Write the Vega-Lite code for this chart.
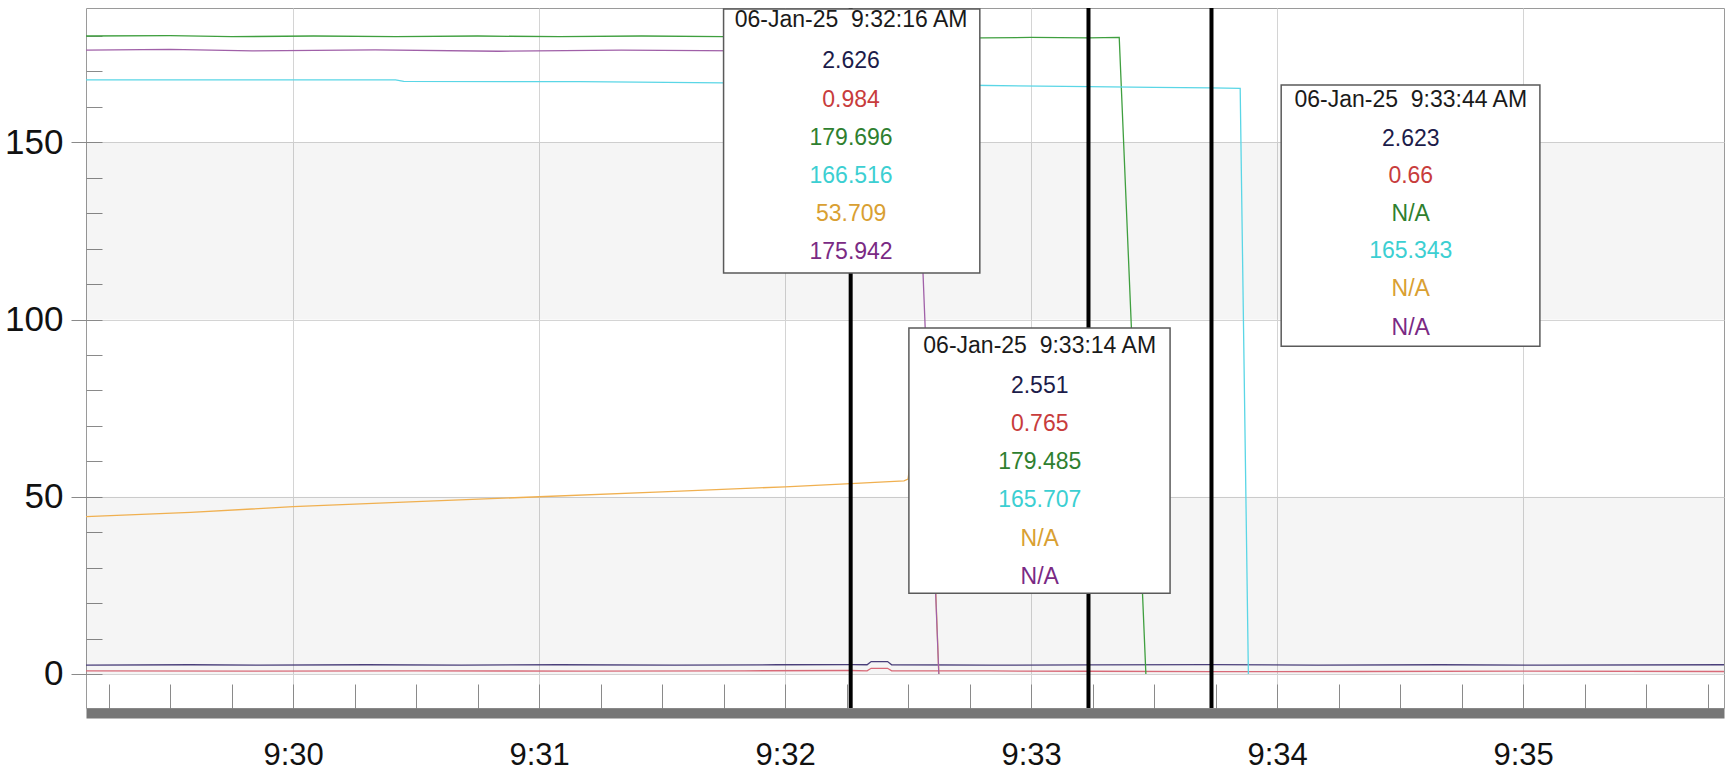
{
  "$schema": "https://vega.github.io/schema/vega-lite/v6.json",
  "autosize": "none",
  "width": 1638,
  "height": 700,
  "padding": {"left": 86, "top": 8, "right": 11, "bottom": 65},
  "background": "white",
  "view": {"stroke": "#9a9a9a", "strokeWidth": 1},
  "datasets": {
    "bandrows": [{"lo": 0, "hi": 50}, {"lo": 100, "hi": 150}],
    "seriesrows": [
      {"t": "2025-01-06T09:29:09.500", "s": "ch1", "v": 2.5},
      {"t": "2025-01-06T09:29:35", "s": "ch1", "v": 2.6},
      {"t": "2025-01-06T09:29:52", "s": "ch1", "v": 2.5},
      {"t": "2025-01-06T09:30:18", "s": "ch1", "v": 2.6},
      {"t": "2025-01-06T09:30:41", "s": "ch1", "v": 2.5},
      {"t": "2025-01-06T09:31:05", "s": "ch1", "v": 2.6},
      {"t": "2025-01-06T09:31:33", "s": "ch1", "v": 2.5},
      {"t": "2025-01-06T09:31:58", "s": "ch1", "v": 2.6},
      {"t": "2025-01-06T09:32:16", "s": "ch1", "v": 2.626},
      {"t": "2025-01-06T09:32:20", "s": "ch1", "v": 2.6},
      {"t": "2025-01-06T09:32:21", "s": "ch1", "v": 3.5},
      {"t": "2025-01-06T09:32:25", "s": "ch1", "v": 3.5},
      {"t": "2025-01-06T09:32:26", "s": "ch1", "v": 2.6},
      {"t": "2025-01-06T09:32:50", "s": "ch1", "v": 2.5},
      {"t": "2025-01-06T09:33:14", "s": "ch1", "v": 2.551},
      {"t": "2025-01-06T09:33:44", "s": "ch1", "v": 2.623},
      {"t": "2025-01-06T09:34:10", "s": "ch1", "v": 2.5},
      {"t": "2025-01-06T09:34:40", "s": "ch1", "v": 2.6},
      {"t": "2025-01-06T09:35:05", "s": "ch1", "v": 2.5},
      {"t": "2025-01-06T09:35:49", "s": "ch1", "v": 2.6},

      {"t": "2025-01-06T09:29:09.500", "s": "ch2", "v": 0.9},
      {"t": "2025-01-06T09:29:50", "s": "ch2", "v": 0.8},
      {"t": "2025-01-06T09:30:30", "s": "ch2", "v": 0.9},
      {"t": "2025-01-06T09:31:10", "s": "ch2", "v": 0.8},
      {"t": "2025-01-06T09:31:50", "s": "ch2", "v": 0.9},
      {"t": "2025-01-06T09:32:16", "s": "ch2", "v": 0.984},
      {"t": "2025-01-06T09:32:20", "s": "ch2", "v": 0.9},
      {"t": "2025-01-06T09:32:21", "s": "ch2", "v": 1.6},
      {"t": "2025-01-06T09:32:25", "s": "ch2", "v": 1.6},
      {"t": "2025-01-06T09:32:26", "s": "ch2", "v": 0.9},
      {"t": "2025-01-06T09:32:50", "s": "ch2", "v": 0.85},
      {"t": "2025-01-06T09:33:14", "s": "ch2", "v": 0.765},
      {"t": "2025-01-06T09:33:44", "s": "ch2", "v": 0.66},
      {"t": "2025-01-06T09:34:20", "s": "ch2", "v": 0.7},
      {"t": "2025-01-06T09:35:00", "s": "ch2", "v": 0.8},
      {"t": "2025-01-06T09:35:49", "s": "ch2", "v": 0.7},

      {"t": "2025-01-06T09:29:09.500", "s": "ch3", "v": 180.0},
      {"t": "2025-01-06T09:29:30", "s": "ch3", "v": 180.1},
      {"t": "2025-01-06T09:29:45", "s": "ch3", "v": 179.8},
      {"t": "2025-01-06T09:30:05", "s": "ch3", "v": 180.0},
      {"t": "2025-01-06T09:30:25", "s": "ch3", "v": 179.8},
      {"t": "2025-01-06T09:30:45", "s": "ch3", "v": 180.0},
      {"t": "2025-01-06T09:31:05", "s": "ch3", "v": 179.8},
      {"t": "2025-01-06T09:31:25", "s": "ch3", "v": 180.0},
      {"t": "2025-01-06T09:31:45", "s": "ch3", "v": 179.8},
      {"t": "2025-01-06T09:32:05", "s": "ch3", "v": 179.9},
      {"t": "2025-01-06T09:32:16", "s": "ch3", "v": 179.696},
      {"t": "2025-01-06T09:32:40", "s": "ch3", "v": 179.4},
      {"t": "2025-01-06T09:33:00", "s": "ch3", "v": 179.6},
      {"t": "2025-01-06T09:33:14", "s": "ch3", "v": 179.485},
      {"t": "2025-01-06T09:33:21.500", "s": "ch3", "v": 179.6},
      {"t": "2025-01-06T09:33:28", "s": "ch3", "v": 0},

      {"t": "2025-01-06T09:29:09.500", "s": "ch4", "v": 167.6},
      {"t": "2025-01-06T09:30:25", "s": "ch4", "v": 167.6},
      {"t": "2025-01-06T09:30:27", "s": "ch4", "v": 167.2},
      {"t": "2025-01-06T09:31:10", "s": "ch4", "v": 167.1},
      {"t": "2025-01-06T09:31:45", "s": "ch4", "v": 166.8},
      {"t": "2025-01-06T09:32:16", "s": "ch4", "v": 166.516},
      {"t": "2025-01-06T09:32:45", "s": "ch4", "v": 166.1},
      {"t": "2025-01-06T09:33:14", "s": "ch4", "v": 165.707},
      {"t": "2025-01-06T09:33:30", "s": "ch4", "v": 165.5},
      {"t": "2025-01-06T09:33:44", "s": "ch4", "v": 165.343},
      {"t": "2025-01-06T09:33:51", "s": "ch4", "v": 165.2},
      {"t": "2025-01-06T09:33:53", "s": "ch4", "v": 0},

      {"t": "2025-01-06T09:29:09.500", "s": "ch5", "v": 44.4},
      {"t": "2025-01-06T09:29:35", "s": "ch5", "v": 45.6},
      {"t": "2025-01-06T09:30:00", "s": "ch5", "v": 47.2},
      {"t": "2025-01-06T09:30:30", "s": "ch5", "v": 48.6},
      {"t": "2025-01-06T09:31:00", "s": "ch5", "v": 50.0},
      {"t": "2025-01-06T09:31:30", "s": "ch5", "v": 51.4},
      {"t": "2025-01-06T09:32:00", "s": "ch5", "v": 52.8},
      {"t": "2025-01-06T09:32:16", "s": "ch5", "v": 53.709},
      {"t": "2025-01-06T09:32:29", "s": "ch5", "v": 54.5},
      {"t": "2025-01-06T09:32:30", "s": "ch5", "v": 55.0},
      {"t": "2025-01-06T09:32:30.500", "s": "ch5", "v": 59.5},
      {"t": "2025-01-06T09:32:35.500", "s": "ch5", "v": 62.0},
      {"t": "2025-01-06T09:32:37.500", "s": "ch5", "v": 0},

      {"t": "2025-01-06T09:29:09.500", "s": "ch6", "v": 176.0},
      {"t": "2025-01-06T09:29:30", "s": "ch6", "v": 176.2},
      {"t": "2025-01-06T09:29:50", "s": "ch6", "v": 175.8},
      {"t": "2025-01-06T09:30:20", "s": "ch6", "v": 176.1},
      {"t": "2025-01-06T09:30:50", "s": "ch6", "v": 175.7},
      {"t": "2025-01-06T09:31:20", "s": "ch6", "v": 176.0},
      {"t": "2025-01-06T09:31:50", "s": "ch6", "v": 175.8},
      {"t": "2025-01-06T09:32:16", "s": "ch6", "v": 175.942},
      {"t": "2025-01-06T09:32:31.500", "s": "ch6", "v": 176.0},
      {"t": "2025-01-06T09:32:37.500", "s": "ch6", "v": 0}
    ],
    "cursorrows": [
      {"t": "2025-01-06T09:32:16"},
      {"t": "2025-01-06T09:33:14"},
      {"t": "2025-01-06T09:33:44"}
    ],
    "boxrows": [
      {"t0": "2025-01-06T09:31:45", "t1": "2025-01-06T09:32:47.500", "top": 187.6, "bottom": 113.1},
      {"t0": "2025-01-06T09:32:30.200", "t1": "2025-01-06T09:33:33.900", "top": 97.6, "bottom": 22.8},
      {"t0": "2025-01-06T09:34:01", "t1": "2025-01-06T09:35:04.100", "top": 166.2, "bottom": 92.5}
    ],
    "textrows": [
      {"t": "2025-01-06T09:32:16.100", "v": 184.5, "s": "hdr", "txt": "06-Jan-25\u00a0\u00a09:32:16 AM"},
      {"t": "2025-01-06T09:32:16.100", "v": 172.9, "s": "ch1", "txt": "2.626"},
      {"t": "2025-01-06T09:32:16.100", "v": 161.9, "s": "ch2", "txt": "0.984"},
      {"t": "2025-01-06T09:32:16.100", "v": 151.2, "s": "ch3", "txt": "179.696"},
      {"t": "2025-01-06T09:32:16.100", "v": 140.5, "s": "ch4", "txt": "166.516"},
      {"t": "2025-01-06T09:32:16.100", "v": 129.8, "s": "ch5", "txt": "53.709"},
      {"t": "2025-01-06T09:32:16.100", "v": 119.0, "s": "ch6", "txt": "175.942"},
      {"t": "2025-01-06T09:33:02.100", "v": 92.5, "s": "hdr", "txt": "06-Jan-25\u00a0\u00a09:33:14 AM"},
      {"t": "2025-01-06T09:33:02.100", "v": 81.2, "s": "ch1", "txt": "2.551"},
      {"t": "2025-01-06T09:33:02.100", "v": 70.5, "s": "ch2", "txt": "0.765"},
      {"t": "2025-01-06T09:33:02.100", "v": 59.7, "s": "ch3", "txt": "179.485"},
      {"t": "2025-01-06T09:33:02.100", "v": 49.1, "s": "ch4", "txt": "165.707"},
      {"t": "2025-01-06T09:33:02.100", "v": 38.1, "s": "ch5", "txt": "N/A"},
      {"t": "2025-01-06T09:33:02.100", "v": 27.5, "s": "ch6", "txt": "N/A"},
      {"t": "2025-01-06T09:34:32.600", "v": 162.0, "s": "hdr", "txt": "06-Jan-25\u00a0\u00a09:33:44 AM"},
      {"t": "2025-01-06T09:34:32.600", "v": 150.8, "s": "ch1", "txt": "2.623"},
      {"t": "2025-01-06T09:34:32.600", "v": 140.5, "s": "ch2", "txt": "0.66"},
      {"t": "2025-01-06T09:34:32.600", "v": 129.9, "s": "ch3", "txt": "N/A"},
      {"t": "2025-01-06T09:34:32.600", "v": 119.3, "s": "ch4", "txt": "165.343"},
      {"t": "2025-01-06T09:34:32.600", "v": 108.6, "s": "ch5", "txt": "N/A"},
      {"t": "2025-01-06T09:34:32.600", "v": 97.7, "s": "ch6", "txt": "N/A"}
    ]
  },
  "layer": [
    {
      "data": {"name": "bandrows"},
      "mark": {"type": "rect", "color": "#000000", "opacity": 0.04},
      "encoding": {
        "y": {"field": "lo", "type": "quantitative"},
        "y2": {"field": "hi"}
      }
    },
    {
      "data": {"name": "seriesrows"},
      "mark": {"type": "line", "strokeWidth": 1.3, "clip": true},
      "encoding": {
        "x": {
          "field": "t", "type": "temporal",
          "scale": {"domain": [
            {"year": 2025, "month": 1, "date": 6, "hours": 9, "minutes": 29, "seconds": 9, "milliseconds": 500},
            {"year": 2025, "month": 1, "date": 6, "hours": 9, "minutes": 35, "seconds": 49}
          ], "nice": false},
          "axis": {
            "title": null,
            "values": [
              {"year": 2025, "month": 1, "date": 6, "hours": 9, "minutes": 29, "seconds": 15},
              {"year": 2025, "month": 1, "date": 6, "hours": 9, "minutes": 29, "seconds": 30},
              {"year": 2025, "month": 1, "date": 6, "hours": 9, "minutes": 29, "seconds": 45},
              {"year": 2025, "month": 1, "date": 6, "hours": 9, "minutes": 30, "seconds": 0},
              {"year": 2025, "month": 1, "date": 6, "hours": 9, "minutes": 30, "seconds": 15},
              {"year": 2025, "month": 1, "date": 6, "hours": 9, "minutes": 30, "seconds": 30},
              {"year": 2025, "month": 1, "date": 6, "hours": 9, "minutes": 30, "seconds": 45},
              {"year": 2025, "month": 1, "date": 6, "hours": 9, "minutes": 31, "seconds": 0},
              {"year": 2025, "month": 1, "date": 6, "hours": 9, "minutes": 31, "seconds": 15},
              {"year": 2025, "month": 1, "date": 6, "hours": 9, "minutes": 31, "seconds": 30},
              {"year": 2025, "month": 1, "date": 6, "hours": 9, "minutes": 31, "seconds": 45},
              {"year": 2025, "month": 1, "date": 6, "hours": 9, "minutes": 32, "seconds": 0},
              {"year": 2025, "month": 1, "date": 6, "hours": 9, "minutes": 32, "seconds": 15},
              {"year": 2025, "month": 1, "date": 6, "hours": 9, "minutes": 32, "seconds": 30},
              {"year": 2025, "month": 1, "date": 6, "hours": 9, "minutes": 32, "seconds": 45},
              {"year": 2025, "month": 1, "date": 6, "hours": 9, "minutes": 33, "seconds": 0},
              {"year": 2025, "month": 1, "date": 6, "hours": 9, "minutes": 33, "seconds": 15},
              {"year": 2025, "month": 1, "date": 6, "hours": 9, "minutes": 33, "seconds": 30},
              {"year": 2025, "month": 1, "date": 6, "hours": 9, "minutes": 33, "seconds": 45},
              {"year": 2025, "month": 1, "date": 6, "hours": 9, "minutes": 34, "seconds": 0},
              {"year": 2025, "month": 1, "date": 6, "hours": 9, "minutes": 34, "seconds": 15},
              {"year": 2025, "month": 1, "date": 6, "hours": 9, "minutes": 34, "seconds": 30},
              {"year": 2025, "month": 1, "date": 6, "hours": 9, "minutes": 34, "seconds": 45},
              {"year": 2025, "month": 1, "date": 6, "hours": 9, "minutes": 35, "seconds": 0},
              {"year": 2025, "month": 1, "date": 6, "hours": 9, "minutes": 35, "seconds": 15},
              {"year": 2025, "month": 1, "date": 6, "hours": 9, "minutes": 35, "seconds": 30},
              {"year": 2025, "month": 1, "date": 6, "hours": 9, "minutes": 35, "seconds": 45}
            ],
            "tickCount": 40,
            "labelExpr": "seconds(datum.value) === 0 ? timeFormat(datum.value, '%-H:%M') : ''",
            "domainColor": "#767676", "domainWidth": 10, "offset": 5,
            "tickSize": -29, "tickColor": "#8a8a8a",
            "gridColor": "#d4d4d4",
            "gridOpacity": {"condition": {"test": "seconds(datum.value) === 0", "value": 1}, "value": 0},
            "labelFont": "Liberation Sans", "labelFontSize": 31, "labelColor": "#111111",
            "labelPadding": 56, "labelBaseline": "top", "labelOverlap": false
          }
        },
        "y": {
          "field": "v", "type": "quantitative",
          "scale": {"domain": [-9.6, 187.9], "nice": false, "zero": false},
          "axis": {
            "title": null,
            "values": [0, 10, 20, 30, 40, 50, 60, 70, 80, 90, 100, 110, 120, 130, 140, 150, 160, 170, 180],
            "tickCount": 30,
            "labelExpr": "datum.value % 50 === 0 ? datum.label : ''",
            "domain": false, "offset": -16,
            "tickSize": 31, "tickColor": "#8a8a8a",
            "tickDash": {"condition": {"test": "datum.value % 50 !== 0", "value": [16, 100]}, "value": []},
            "gridColor": "#d4d4d4",
            "gridOpacity": {"condition": {"test": "datum.value % 50 === 0", "value": 1}, "value": 0},
            "labelFont": "Liberation Sans", "labelFontSize": 35, "labelColor": "#111111",
            "labelPadding": 8, "labelOverlap": false
          }
        },
        "stroke": {
          "field": "s", "type": "nominal",
          "scale": {"domain": ["ch1", "ch2", "ch3", "ch4", "ch5", "ch6"],
                    "range": ["#4a3f7a", "#d86a78", "#3f9f3f", "#5ad6e6", "#f0b050", "#a060a8"]},
          "legend": null
        }
      }
    },
    {
      "data": {"name": "cursorrows"},
      "mark": {"type": "rule", "color": "#000000", "strokeWidth": 4},
      "encoding": {
        "x": {"field": "t", "type": "temporal"}
      }
    },
    {
      "data": {"name": "boxrows"},
      "mark": {"type": "rect", "fill": "#ffffff", "stroke": "#5a5a5a", "strokeWidth": 1.5},
      "encoding": {
        "x": {"field": "t0", "type": "temporal"},
        "x2": {"field": "t1"},
        "y": {"field": "top", "type": "quantitative"},
        "y2": {"field": "bottom"}
      }
    },
    {
      "data": {"name": "textrows"},
      "mark": {"type": "text", "font": "Liberation Sans", "fontSize": 23, "align": "center", "baseline": "middle"},
      "encoding": {
        "x": {"field": "t", "type": "temporal"},
        "y": {"field": "v", "type": "quantitative"},
        "text": {"field": "txt"},
        "fill": {
          "field": "s", "type": "nominal",
          "scale": {"domain": ["hdr", "ch1", "ch2", "ch3", "ch4", "ch5", "ch6"],
                    "range": ["#1a1a1a", "#1c1c4a", "#c83c3c", "#2f7f2f", "#3ccfd2", "#d9a032", "#7a2a84"]},
          "legend": null
        }
      }
    }
  ]
}
